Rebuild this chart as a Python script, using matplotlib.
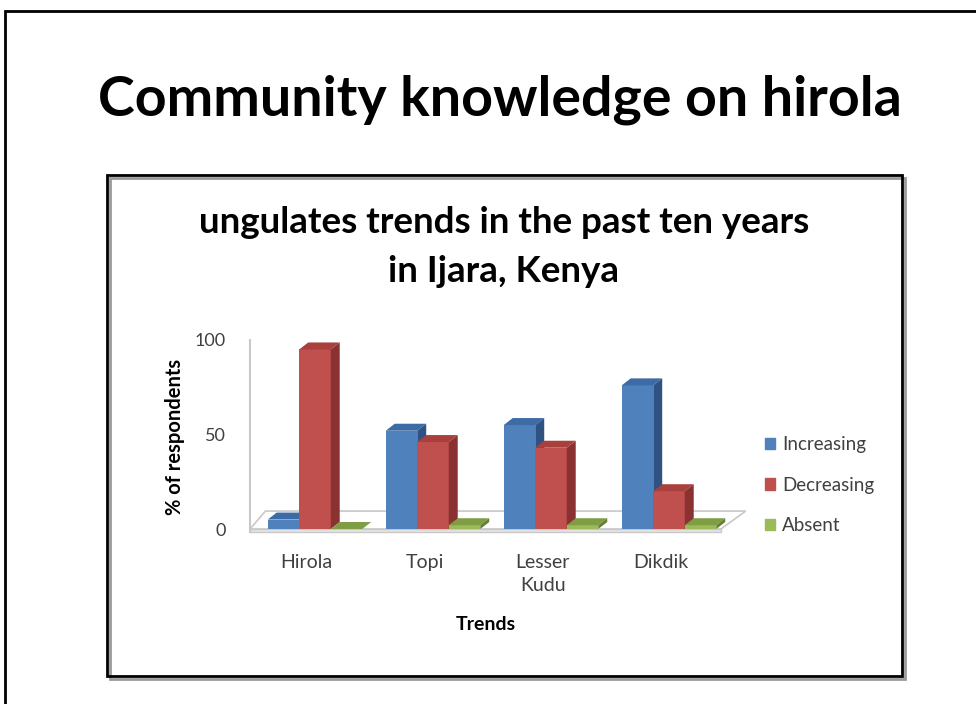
import matplotlib.pyplot as plt
import numpy as np
from matplotlib.patches import Polygon, Rectangle, Patch

plt.rcParams['font.family'] = ['Lato', 'DejaVu Sans']

# data
species = ["Hirola", "Topi", "Lesser\nKudu", "Dikdik"]
series = ["Increasing", "Decreasing", "Absent"]
increasing = [5, 52, 55, 76]
decreasing = [95, 46, 43, 20]
absent = [0, 2, 2, 2]

front_cols = ["#4F81BD", "#C0504D", "#9BBB59"]
top_cols = ["#3D6BA5", "#A9403D", "#7F9E44"]
side_cols = ["#2F5283", "#8A3231", "#647F31"]

W, H = 976, 704
fig = plt.figure(figsize=(W / 100, H / 100), dpi=100)

def px(x, y):
    # pixel (top-left origin) -> figure fraction
    return x / W, 1 - y / H

# slide frame (cut off at right / bottom)
fig.add_artist(Rectangle(px(5, 760), 1.2, (760 - 11) / H, transform=fig.transFigure,
                         fill=False, lw=2, ec="black", zorder=-1))
fig.text(*px(500, 100), "Community knowledge on hirola", fontsize=40, fontweight="bold",
         ha="center", va="center")

# chart box with a little shadow
fig.add_artist(Rectangle(px(110, 679), (902 - 107) / W, (676 - 175) / H,
                         transform=fig.transFigure, fill=False, lw=2, ec="#9a9a9a", zorder=-1))
fig.add_artist(Rectangle(px(107, 676), (902 - 107) / W, (676 - 175) / H,
                         transform=fig.transFigure, fill=False, lw=2, ec="black", zorder=-1))
fig.text(*px(504, 222), "ungulates trends in the past ten years", fontsize=26.5,
         fontweight="bold", ha="center", va="center")
fig.text(*px(504, 271), "in Ijara, Kenya", fontsize=26.5, fontweight="bold",
         ha="center", va="center")

# plot area: category i centre at 315 + 118*i px, value 0 at y=529 px, 1.89 px per unit
x0, x1, y0, y1 = 240, 760, 330, 540
ax = fig.add_axes([x0 / W, 1 - y1 / H, (x1 - x0) / W, (y1 - y0) / H])
ax.set_xlim((x0 - 315) / 118, (x1 - 315) / 118)
ax.set_ylim((529 - y1) / 1.89, (529 - y0) / 1.89)
ax.patch.set_alpha(0)
for s in ax.spines.values():
    s.set_visible(False)

x = np.arange(len(species))
w = 0.267
dx, dy = 0.076, 3.7

# floor
fl, fr = -0.55, 3.44
ax.add_patch(Polygon([(fl, 0), (fr, 0), (fr + 0.21, 9.5), (fl + 0.13, 9.5)],
                     closed=True, fc="white", ec="#c8c8c8", lw=1.2, zorder=1))
ax.add_patch(Polygon([(fl, 0), (fr, 0), (fr, -1.8), (fl, -1.8)],
                     closed=True, fc="#e6e6e6", ec="#c8c8c8", lw=1, zorder=1))
ax.plot([fl, fl], [-1.8, 100], color="#c8c8c8", lw=1.5, zorder=1)

vals = [increasing, decreasing, absent]
for i in range(len(species)):
    for j in range(3):
        h = vals[j][i]
        l = x[i] + (j - 1) * w - w / 2
        r = l + w
        z = 2 + (i * 3 + j) * 0.01
        ax.bar(l, h, width=w, align="edge", color=front_cols[j], zorder=z)
        ax.add_patch(Polygon([(l, h), (r, h), (r + dx, h + dy), (l + dx, h + dy)],
                             closed=True, fc=top_cols[j], ec="none", zorder=z))
        ax.add_patch(Polygon([(r, 0), (r + dx, dy), (r + dx, h + dy), (r, h)],
                             closed=True, fc=side_cols[j], ec="none", zorder=z))

ax.set_yticks([0, 50, 100])
ax.set_yticklabels(["0", "50", "100"], fontsize=13, color="#404040")
ax.tick_params(axis="y", length=0, pad=10)
ax.set_xticks(x - 0.07)
ax.set_xticklabels(species, fontsize=14, color="#404040")
ax.tick_params(axis="x", length=0, pad=10)
for lbl in ax.get_xticklabels():
    lbl.set_linespacing(1.45)

fig.text(*px(175, 437), "% of respondents", fontsize=14.5, fontweight="bold",
         rotation=90, ha="center", va="center")
fig.text(*px(486, 625), "Trends", fontsize=14, fontweight="bold", ha="center", va="center")

handles = [Patch(color=c) for c in front_cols]
fig.legend(handles, series, loc="center left", bbox_to_anchor=px(748, 485),
           frameon=False, fontsize=13.5, handlelength=0.55, handleheight=0.55,
           handletextpad=0.35, labelspacing=1.25, labelcolor="#404040")

fig.savefig("out.png", dpi=100)
